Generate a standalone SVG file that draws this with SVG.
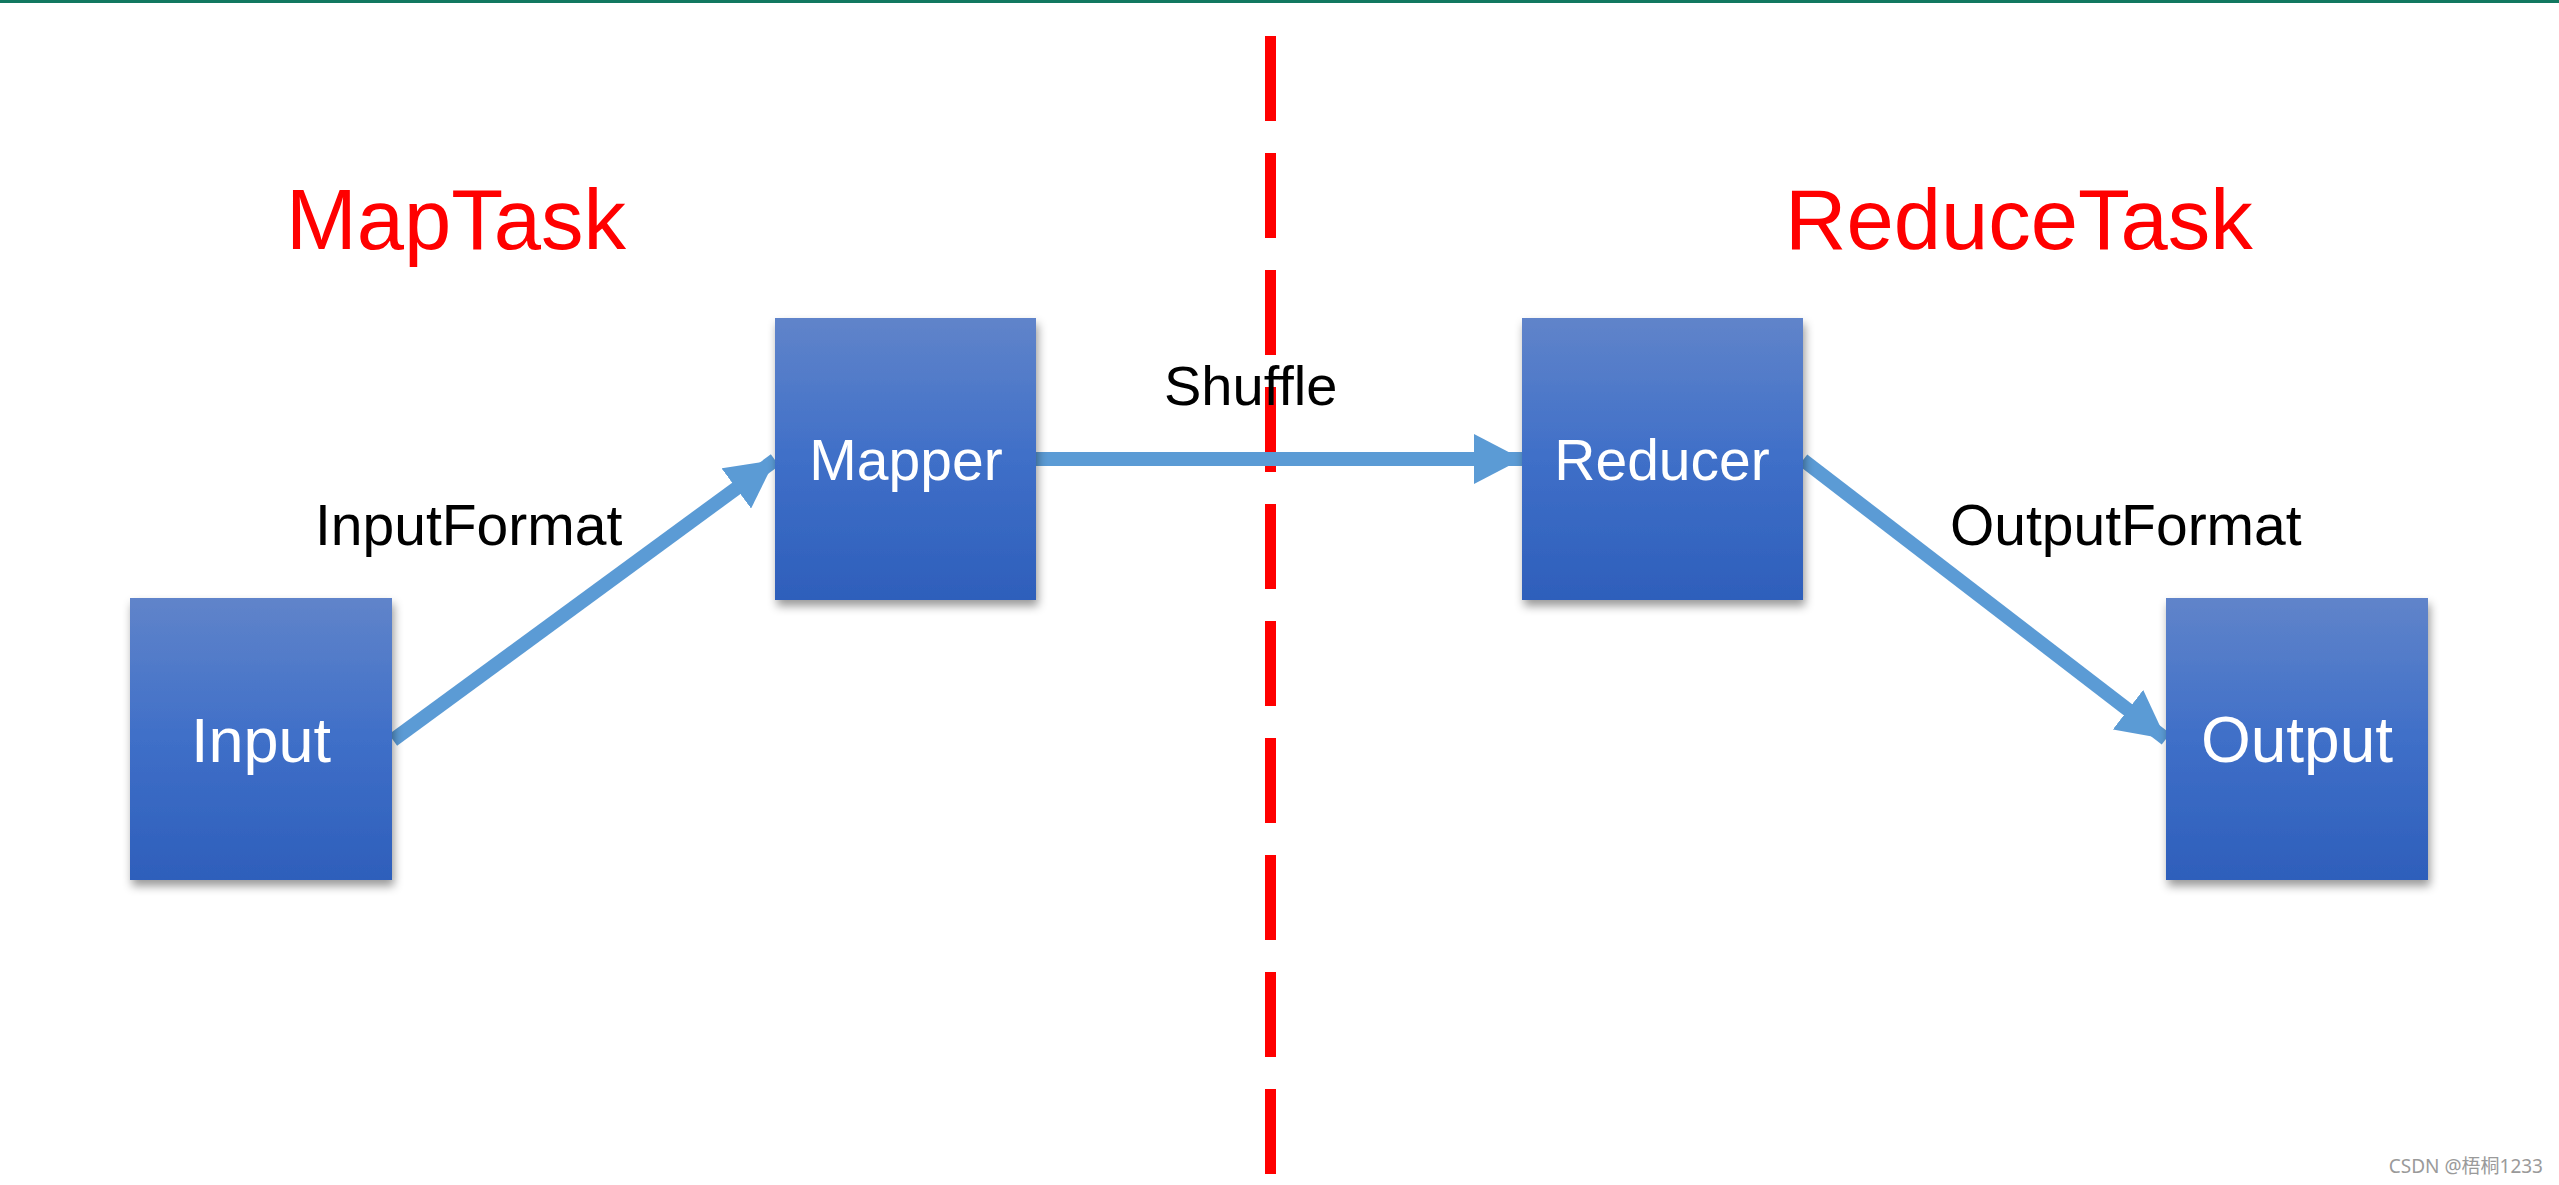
<svg xmlns="http://www.w3.org/2000/svg" width="2559" height="1185" viewBox="0 0 2559 1185">
<defs>
<linearGradient id="boxg" x1="0" y1="0" x2="0" y2="1">
<stop offset="0" stop-color="#6084CA"/>
<stop offset="0.5" stop-color="#3F6FC8"/>
<stop offset="1" stop-color="#2E5FBB"/>
</linearGradient>
<filter id="sh" x="-20%" y="-20%" width="140%" height="140%">
<feDropShadow dx="2" dy="6" stdDeviation="5" flood-color="#000" flood-opacity="0.4"/>
</filter>
<marker id="ah" markerUnits="userSpaceOnUse" markerWidth="48" markerHeight="50" refX="48" refY="25" orient="auto">
<path d="M0,0 L48,25 L0,50 Z" fill="#5B9BD5"/>
</marker>
<style>
.box{fill:url(#boxg);filter:url(#sh)}
.bt{font-family:"Liberation Sans",Arial,sans-serif;fill:#fff;text-anchor:middle}
.lbl{font-family:"Liberation Sans",Arial,sans-serif;fill:#000;font-size:57px}
.task{font-family:"Liberation Sans",Arial,sans-serif;fill:#FF0000;font-size:85px}
.conn{stroke:#5B9BD5;stroke-width:14;fill:none;marker-end:url(#ah)}
</style>
</defs>
<rect x="0" y="0" width="2559" height="1185" fill="#fff"/>
<rect x="0" y="0" width="2559" height="3" fill="#127860"/>
<line x1="1270.5" y1="36" x2="1270.5" y2="1185" stroke="#FF0000" stroke-width="11" stroke-dasharray="85 32"/>
<text class="task" x="286" y="249">MapTask</text>
<text class="task" x="1785" y="249">ReduceTask</text>
<text class="lbl" x="315" y="545">InputFormat</text>
<text class="lbl" x="1164" y="405" style="font-size:56px">Shuffle</text>
<text class="lbl" x="1950" y="545">OutputFormat</text>
<g id="connectors">
<line class="conn" x1="393" y1="740" x2="775" y2="460"/>
<line class="conn" x1="1036" y1="459" x2="1522" y2="459"/>
<line class="conn" x1="1803" y1="460" x2="2166" y2="739"/>
</g>
<g id="input">
<rect class="box" x="130" y="598" width="262" height="282"/>
<text class="bt" x="261" y="762" font-size="63">Input</text>
</g>
<g id="mapper">
<rect class="box" x="775" y="318" width="261" height="282"/>
<text class="bt" x="906" y="480" font-size="57">Mapper</text>
</g>
<g id="reducer">
<rect class="box" x="1522" y="318" width="281" height="282"/>
<text class="bt" x="1662" y="480" font-size="57">Reducer</text>
</g>
<g id="output">
<rect class="box" x="2166" y="598" width="262" height="282"/>
<text class="bt" x="2297" y="762" font-size="64">Output</text>
</g>
<text x="2543" y="1173" text-anchor="end" font-family="'Noto Sans','Noto Sans CJK SC',sans-serif" font-size="19" fill="#9a9a9a">CSDN @梧桐1233</text>
</svg>
